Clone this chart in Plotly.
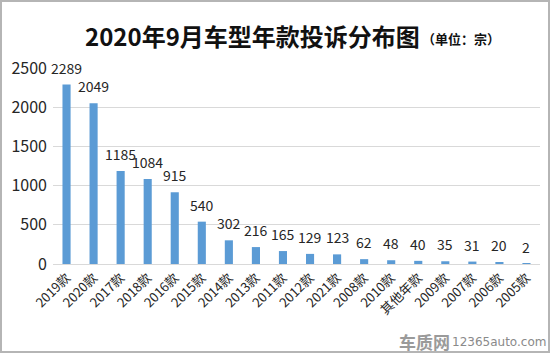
import plotly.graph_objects as go

categories = ["2019款", "2020款", "2017款", "2018款", "2016款", "2015款", "2014款", "2013款",
              "2011款", "2012款", "2021款", "2008款", "2010款", "其他年款", "2009款", "2007款",
              "2006款", "2005款"]
values = [2289, 2049, 1185, 1084, 915, 540, 302, 216, 165, 129, 123, 62, 48, 40, 35, 31, 20, 2]
y_ticks = [0, 500, 1000, 1500, 2000, 2500]

W, H = 550, 353
L, R, T, B = 53, 10, 68, 89
pw, ph = W - L - R, H - T - B

font = "Noto Sans CJK SC, Microsoft YaHei, sans-serif"

fig = go.Figure(go.Bar(
    x=categories, y=values, width=0.3,
    marker=dict(color="#5b9bd5", line=dict(width=0)),
))

label_anns = [dict(x=c, y=v, xref="x", yref="y", text=str(v), showarrow=False,
                   xanchor="center", yanchor="bottom", yshift=5,
                   font=dict(size=14, color="#262626", family=font))
              for c, v in zip(categories, values)]

fig.update_layout(
    width=W, height=H, margin=dict(l=L, r=R, t=T, b=B),
    paper_bgcolor="white", plot_bgcolor="white", showlegend=False,
    font=dict(family=font),
    xaxis=dict(tickangle=-45, tickfont=dict(size=13, color="#262626"),
               showline=True, linecolor="#d9d9d9", linewidth=1, ticks="",
               range=[-0.5, len(categories) - 0.5]),
    yaxis=dict(range=[0, 2500], tickvals=y_ticks, tickfont=dict(size=16, color="#262626"),
               showgrid=True, gridcolor="#d9d9d9", gridwidth=1, zeroline=False,
               ticks="", ticklen=0, ticklabelstandoff=5),
    annotations=label_anns + [
        dict(text="<b>2020年9月车型年款投诉分布图</b>", x=(252 - L) / pw, y=1 + (T - 35) / ph,
             xref="paper", yref="paper", xanchor="center", yanchor="middle", showarrow=False,
             font=dict(size=24, color="#111111", family=font)),
        dict(text="<b>（单位：宗）</b>", x=(461 - L) / pw, y=1 + (T - 39) / ph,
             xref="paper", yref="paper", xanchor="center", yanchor="middle", showarrow=False,
             font=dict(size=13, color="#111111", family=font)),
        dict(text="<b>车质网</b>", x=(424 - L) / pw, y=-(341 - T - ph) / ph,
             xref="paper", yref="paper", xanchor="center", yanchor="middle", showarrow=False,
             font=dict(size=17, color="#9a9a9a", family=font)),
        dict(text="12365auto.com", x=(499 - L) / pw, y=-(342 - T - ph) / ph,
             xref="paper", yref="paper", xanchor="center", yanchor="middle", showarrow=False,
             font=dict(size=12, color="#8a8a8a", family="DejaVu Sans, sans-serif")),
    ],
    shapes=[dict(type="rect", xref="paper", yref="paper",
                 x0=-(L - 1) / pw, x1=1 + (R - 1) / pw, y0=-(B - 1) / ph, y1=1 + (T - 1) / ph,
                 line=dict(color="#b5b5b5", width=2), layer="below")],
)

fig.write_html("out.html")
